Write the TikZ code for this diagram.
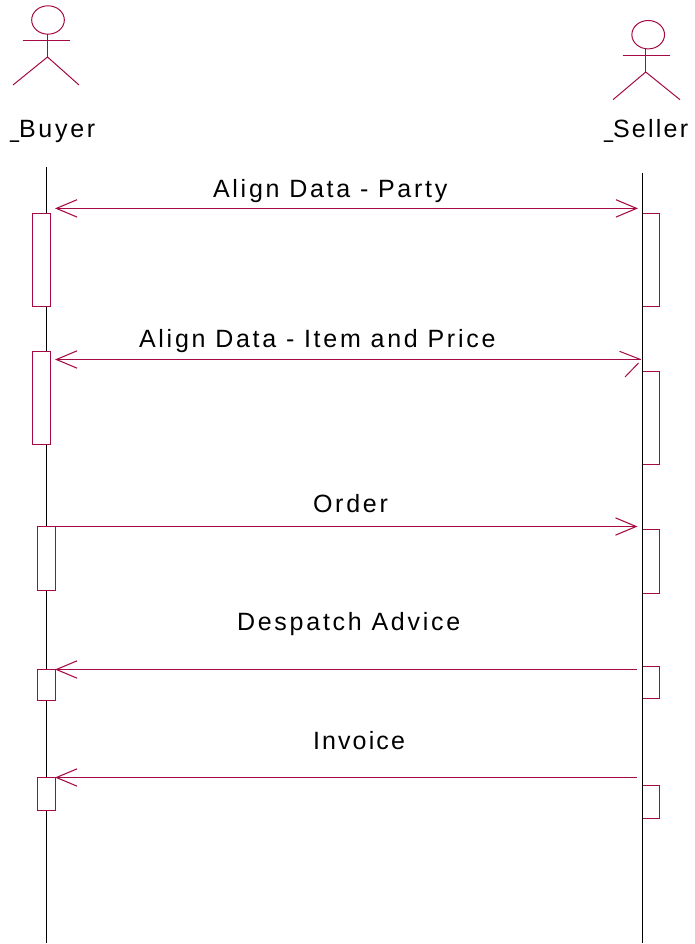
\documentclass[tikz,border=0pt]{standalone}
\usepackage{fontspec}
\setmainfont[LetterSpace=11]{Liberation Sans}
\usetikzlibrary{arrows.meta,fit,shapes.geometric}
\definecolor{umlred}{HTML}{A50A45}
\tikzset{
  px/.style={x=0.75pt,y=-0.75pt},
  umlline/.style={draw=umlred,line width=0.75pt},
  life/.style={draw=black,line width=0.75pt},
  actbox/.style={umlline,fill=white,inner sep=0pt,outer sep=0pt,rectangle},
  headshape/.style={umlline,ellipse,inner sep=0pt,outer sep=0pt,minimum width=24.5pt,minimum height=21.3pt},
  lbl/.style={anchor=base west,inner sep=0pt,outer sep=0pt,font=\fontsize{18.75pt}{20pt}\selectfont,text=black},
  msgR/.style={umlline,-{Straight Barb[length=15.5pt,width=13pt,line width=0.8pt]}},
  msgL/.style={umlline,{Straight Barb[length=15.5pt,width=13pt,line width=0.8pt]}-},
  msgB/.style={umlline,{Straight Barb[length=15.5pt,width=13pt,line width=0.8pt]}-{Straight Barb[length=15.5pt,width=13pt,line width=0.8pt]}},
}
\newcommand{\ubar}{\scalebox{0.65}[1]{\_}}
\begin{document}
\begin{tikzpicture}[px]
\useasboundingbox (0,0) rectangle (694,944);
% seller activations (under the lifeline)
\node[actbox,fit={(642.7,213.5)(659.5,306.5)}] (s1) {};
\node[actbox,fit={(642.7,371.5)(659.5,464.5)}] (s2) {};
\node[actbox,fit={(642.7,529.5)(659.5,593.5)}] (s3) {};
\node[actbox,fit={(642.7,666.5)(659.5,698.5)}] (s4) {};
\node[actbox,fit={(642.7,785.5)(659.5,818.5)}] (s5) {};
% lifelines
\coordinate (bt) at (46.9,167);
\coordinate (bb) at (46.9,943);
\coordinate (st) at (642.5,173);
\coordinate (sb) at (642.5,943);
\draw[life] (bt) -- (bb);
\draw[life] (st) -- (sb);
% buyer activations
\node[actbox,fit={(32.7,213.5)(50.3,306.5)}] (b1) {};
\node[actbox,fit={(32.7,351.5)(50.3,444.5)}] (b2) {};
\node[actbox,fit={(37.8,526.5)(55.3,590.5)}] (b3) {};
\node[actbox,fit={(37.8,669.5)(55.3,700.5)}] (b4) {};
\node[actbox,fit={(37.8,777.5)(55.3,810.5)}] (b5) {};
% buyer actor
\node[headshape] (bh) at (48,20) {};
\coordinate (bn) at (47.5,57);
\coordinate (bal) at (22.5,40.5);
\coordinate (bar) at (70,40.5);
\coordinate (bll) at (13,85);
\coordinate (blr) at (79,85);
\draw[umlline] (bh.south -| bn) -- (bn);
\draw[umlline] (bal) -- (bar);
\draw[umlline] (bll) -- (bn) -- (blr);
% seller actor
\node[headshape] (sh) at (648.2,34.7) {};
\coordinate (sn) at (645.7,72);
\coordinate (sal) at (622.7,55.5);
\coordinate (sar) at (670,55.5);
\coordinate (sll) at (613,99.7);
\coordinate (slr) at (680,99.7);
\draw[umlline] (sh.south -| sn) -- (sn);
\draw[umlline] (sal) -- (sar);
\draw[umlline] (sll) -- (sn) -- (slr);
% actor names
\node[lbl] (buyer) at (10,138) {\ubar Buyer};
\node[lbl] (seller) at (604,138) {\ubar\addfontfeature{LetterSpace=9}Seller};
% messages
\coordinate (m1l) at (55,208.4);
\coordinate (m1r) at (638,208.4);
\coordinate (m2l) at (55,359.5);
\coordinate (m2r) at (640.5,359.5);
\coordinate (m2u) at (619.5,351.3);
\coordinate (m2d) at (625,377);
\coordinate (m2e) at (638.5,363);
\coordinate (m3l) at (55,526.5);
\coordinate (m3r) at (637.5,526.5);
\coordinate (m4l) at (55,669.5);
\coordinate (m4r) at (636.7,669.5);
\coordinate (m5l) at (55,777.5);
\coordinate (m5r) at (636.7,777.5);
\draw[msgB] (m1l) -- (m1r);
\draw[msgL] (m2l) -- (m2r);
\draw[umlline] (m2u) -- (m2r);
\draw[umlline] (m2d) -- (m2e);
\draw[msgR] (m3l) -- (m3r);
\draw[msgL] (m4l) -- (m4r);
\draw[msgL] (m5l) -- (m5r);
% message labels
\node[lbl] (t1) at (213,198) {Align Data - Party};
\node[lbl] (t2) at (139,347) {Align Data - Item and Price};
\node[lbl] (t3) at (313,512.5) {Order};
\node[lbl] (t4) at (237,630.5) {Despatch Advice};
\node[lbl] (t5) at (313,749.5) {\addfontfeature{LetterSpace=8.5}Invoice};
\end{tikzpicture}
\end{document}
